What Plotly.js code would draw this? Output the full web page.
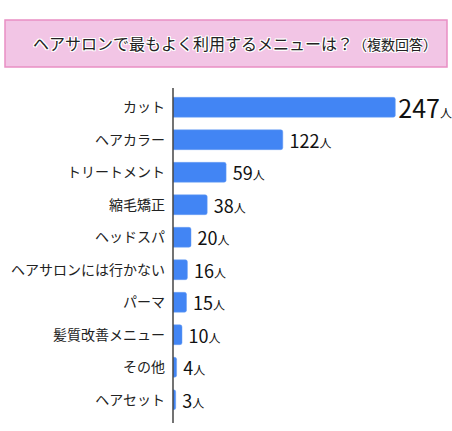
<!DOCTYPE html>
<html>
<head>
<meta charset="utf-8">
<script src="https://cdn.plot.ly/plotly-3.0.1.min.js"></script>
<style>
  body { margin: 0; background: #fff; }
  #chart { width: 452px; height: 431px; }
</style>
</head>
<body>
<div id="chart"></div>
<script>
var menus = ['カット', 'ヘアカラー', 'トリートメント', '縮毛矯正', 'ヘッドスパ',
             'ヘアサロンには行かない', 'パーマ', '髪質改善メニュー', 'その他', 'ヘアセット']
var counts = [247, 122, 59, 38, 20, 16, 15, 10, 4, 3]
var unit = '人'

// biggest bar gets a bigger label, like the original
var labels = counts.map(function(v, i) {
  if (i == 0) return '<span style="font-size:25px">' + v + '</span><span style="font-size:12px">' + unit + '</span>'
  return '\u2009' + v + '<span style="font-size:12px">' + unit + '</span>'
})

var font = '"Noto Sans CJK JP", "Noto Sans", sans-serif'

var trace = {
  type: 'bar',
  orientation: 'h',
  y: menus,
  x: counts,
  text: labels,
  textposition: 'outside',
  constraintext: 'none',
  cliponaxis: false,
  textfont: {family: font, size: 18, color: '#111'},
  marker: {color: '#4285f4', cornerradius: 2, line: {color: '#6b9ef2', width: 0.5}},
  hoverinfo: 'none'
}

var layout = {
  width: 452,
  height: 431,
  margin: {l: 173, r: 0, t: 91, b: 15, pad: 0},
  paper_bgcolor: '#ffffff',
  plot_bgcolor: '#ffffff',
  bargap: 0.39,
  showlegend: false,
  font: {family: font, color: '#222'},
  title: {
    text: 'ヘアサロンで最もよく利用するメニューは？<span style="font-size:14px">（複数回答）</span>',
    xref: 'container', yref: 'container',
    x: 33 / 452, xanchor: 'left',
    y: 1 - 44 / 431, yanchor: 'middle',
    font: {family: font, size: 16, color: '#222',
           shadow: '1px 1px 0 #fff, -1px -1px 0 #fff, 1px -1px 0 #fff, -1px 1px 0 #fff, 0 1px 0 #fff, 0 -1px 0 #fff, 1px 0 0 #fff, -1px 0 0 #fff'}
  },
  xaxis: {
    range: [0, 310],
    visible: false,
    fixedrange: true
  },
  yaxis: {
    autorange: 'reversed',
    showline: false,
    showgrid: false,
    zeroline: false,
    ticks: '',
    ticklabelstandoff: 7,
    tickfont: {family: font, size: 14, color: '#222'},
    fixedrange: true
  },
  shapes: [
    // pink title box
    {type: 'rect', xref: 'paper', yref: 'paper',
     x0: (5 - 173) / 279, x1: (447 - 173) / 279,
     y0: (416 - 67) / 325, y1: (416 - 20) / 325,
     fillcolor: '#f2c5e5', line: {color: '#e98fc4', width: 1.5}, layer: 'below'},
    // vertical axis line
    {type: 'line', xref: 'paper', yref: 'paper',
     x0: 0, x1: 0, y0: (416 - 423) / 325, y1: (416 - 88) / 325,
     line: {color: '#444', width: 1.5}}
  ]
}

Plotly.newPlot('chart', [trace], layout, {displayModeBar: false, staticPlot: true})
</script>
</body>
</html>
